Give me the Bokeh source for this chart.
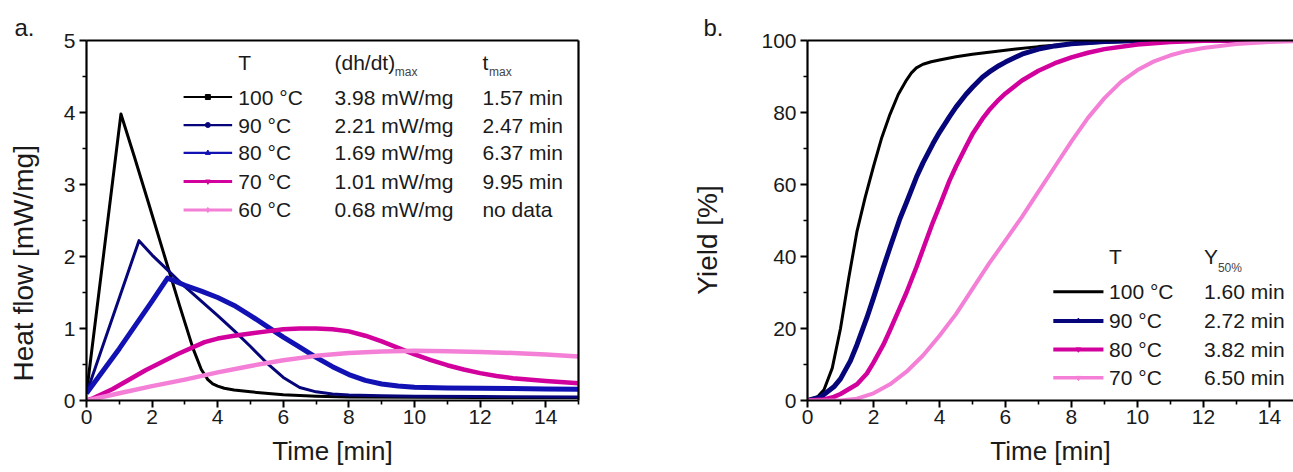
from bokeh.plotting import figure
from bokeh.models import Range1d, LinearAxis, FixedTicker
from bokeh.layouts import row
from bokeh.embed import file_html
from bokeh.resources import INLINE
from bokeh.core.properties import value

FONT = "Liberation Sans"
NB = "\u00a0"

# ---------------- data: panel a (heat flow) ----------------
a_labels = ["100 °C", "90 °C", "80 °C", "70 °C", "60 °C"]
a_dhdt = ["3.98 mW/mg", "2.21 mW/mg", "1.69 mW/mg", "1.01 mW/mg", "0.68 mW/mg"]
a_tmax = ["1.57 min", "2.47 min", "6.37 min", "9.95 min", "no data"]

t100a = [0, 1.05, 1.45, 1.9, 2.35, 2.85, 3.25, 3.5, 3.7, 3.85, 4.0, 4.2, 4.5, 5.0, 6.0, 7.0, 8.0, 10.0, 12.0, 15.0]
h100a = [0.1, 3.98, 3.40, 2.73, 2.05, 1.30, 0.72, 0.43, 0.29, 0.23, 0.2, 0.17, 0.145, 0.12, 0.08, 0.06, 0.05, 0.045, 0.04, 0.04]

t90a = [0, 1.6, 2.0, 2.5, 3.0, 3.5, 4.0, 4.5, 5.0, 5.5, 6.0, 6.5, 7.0, 7.5, 8.0, 9.0, 10.0, 12.0, 15.0]
h90a = [0.1, 2.22, 2.02, 1.80, 1.58, 1.38, 1.18, 0.97, 0.75, 0.52, 0.32, 0.18, 0.12, 0.09, 0.075, 0.065, 0.06, 0.055, 0.05]

t80a = [0, 1.0, 2.0, 2.47, 3.0, 3.5, 4.0, 4.5, 5.0, 5.5, 6.0, 6.5, 7.0, 7.5, 8.0, 8.5, 9.0, 9.5, 10.0, 11.0, 12.0, 13.0, 14.0, 15.0]
h80a = [0.1, 0.72, 1.38, 1.70, 1.60, 1.52, 1.43, 1.32, 1.18, 1.03, 0.88, 0.74, 0.60, 0.47, 0.36, 0.28, 0.23, 0.20, 0.185, 0.175, 0.17, 0.165, 0.16, 0.155]

t70a = [0, 0.2, 0.8, 1.8, 2.8, 3.6, 4.0, 4.5, 5.0, 5.5, 6.0, 6.5, 7.0, 7.5, 8.0, 8.5, 9.0, 9.5, 10.0, 10.5, 11.0, 11.5, 12.0, 12.5, 13.0, 14.0, 15.0]
h70a = [0.0, 0.03, 0.16, 0.42, 0.65, 0.81, 0.86, 0.9, 0.93, 0.96, 0.99, 1.0, 1.0, 0.99, 0.96, 0.9, 0.82, 0.73, 0.64, 0.56, 0.49, 0.43, 0.38, 0.34, 0.31, 0.27, 0.24]

t60a = [0, 1, 2, 3, 4, 5, 6, 7, 8, 9, 10, 11, 12, 13, 14, 15]
h60a = [0.0, 0.1, 0.2, 0.29, 0.39, 0.48, 0.56, 0.62, 0.66, 0.68, 0.69, 0.685, 0.675, 0.66, 0.64, 0.61]

# ---------------- data: panel b (yield) ----------------
b_labels = ["100 °C", "90 °C", "80 °C", "70 °C"]
b_y50 = ["1.60 min", "2.72 min", "3.82 min", "6.50 min"]

t100b = [0, 0.3, 0.5, 0.75, 1.0, 1.25, 1.5, 1.75, 2.0, 2.25, 2.5, 2.75, 3.0, 3.15, 3.3, 3.5, 3.75, 4.0, 4.5, 5.0, 6.0, 7.0, 8.0, 9.0, 10.0, 12.0, 15.0]
y100b = [0, 1, 3, 9, 20, 34, 47, 56.5, 65, 73, 79.5, 85, 89, 91, 92.4, 93.4, 94.1, 94.6, 95.5, 96.2, 97.3, 98.3, 99, 99.5, 99.8, 100, 100]

t90b = [0, 0.4, 0.8, 1.0, 1.3, 1.5, 1.8, 2.0, 2.3, 2.5, 2.8, 3.0, 3.3, 3.5, 3.8, 4.0, 4.3, 4.5, 4.8, 5.0, 5.3, 5.5, 5.8, 6.0, 6.5, 7.0, 7.5, 8.0, 9.0, 10.0, 15.0]
y90b = [0, 1, 3.8, 6, 11, 15.5, 23, 28.5, 37, 42.5, 50.5, 55, 62, 66, 71.3, 74.5, 78.8, 81.5, 85, 87, 89.8, 91.2, 93, 94, 96.2, 97.6, 98.5, 99.1, 99.7, 100, 100]

t80b = [0, 0.5, 0.8, 1.0, 1.5, 1.8, 2.0, 2.3, 2.5, 2.8, 3.0, 3.3, 3.5, 3.8, 4.0, 4.3, 4.5, 4.8, 5.0, 5.3, 5.5, 5.8, 6.0, 6.5, 7.0, 7.5, 8.0, 8.5, 9.0, 10.0, 11.0, 12.0, 15.0]
y80b = [0, 0.3, 1, 1.8, 4.5, 7.5, 10.5, 15.5, 19.5, 25.8, 30, 37, 42, 49.5, 54, 61, 65, 70.5, 74, 78.2, 80.6, 83.6, 85.3, 88.9, 91.6, 93.7, 95.3, 96.6, 97.6, 98.9, 99.6, 99.9, 100]

t70b = [0, 1.0, 1.5, 2.0, 2.5, 3.0, 3.5, 4.0, 4.5, 5.0, 5.5, 6.0, 6.5, 7.0, 7.5, 8.0, 8.5, 9.0, 9.5, 10.0, 10.5, 11.0, 11.5, 12.0, 13.0, 14.0, 15.0]
y70b = [0, 0, 0.5, 2, 4.5, 8, 12.5, 18, 24, 31, 38, 44.5, 51, 58, 65, 72, 78.5, 84, 88.5, 91.8, 94.2, 95.9, 97.1, 97.9, 99, 99.6, 99.9]

x_ticks = [0, 2, 4, 6, 8, 10, 12, 14]
x_minor = [1, 3, 5, 7, 9, 11, 13, 15]
ya_ticks = [0, 1, 2, 3, 4, 5]
ya_minor = [0.5, 1.5, 2.5, 3.5, 4.5]
yb_ticks = [0, 20, 40, 60, 80, 100]
yb_minor = [10, 30, 50, 70, 90]

# ---------------- styles ----------------
BLACK = "#000000"
NAVY = "#06067a"
BLUE = "#1212b4"
MAGENTA = "#d2009c"
PINK = "#f47fd6"
TXT = "#1a1a1a"
LEG_FS = "21px"


def style(p, xt, xm, yt, ym):
    p.xgrid.visible = False
    p.ygrid.visible = False
    p.xaxis.ticker = FixedTicker(ticks=xt, minor_ticks=xm)
    p.yaxis.ticker = FixedTicker(ticks=yt, minor_ticks=ym)
    for ax in list(p.xaxis) + list(p.yaxis):
        ax.axis_line_width = 2.2
        ax.major_tick_line_width = 2
        ax.minor_tick_line_width = 1.6
        ax.major_tick_out = 7
        ax.major_tick_in = 0
        ax.minor_tick_out = 4
        ax.minor_tick_in = 0
        ax.major_label_text_font = FONT
        ax.major_label_text_font_size = "21px"
        ax.major_label_text_color = TXT
        ax.axis_label_text_font = FONT
        ax.axis_label_text_font_style = "normal"
        ax.axis_label_text_color = TXT
    p.xaxis.axis_label_text_font_size = "26px"
    p.yaxis.axis_label_text_font_size = "28px"
    p.xaxis.major_label_standoff = 2
    p.xaxis.axis_label_standoff = 9
    p.yaxis.major_label_standoff = 4
    p.title.text_font = FONT
    p.title.text_font_size = "24px"
    p.title.text_font_style = "normal"
    p.title.text_color = TXT
    p.title.align = "left"
    p.title.standoff = 0


def frame_line(p, loc):
    ax = LinearAxis(ticker=FixedTicker(ticks=[]), axis_line_width=2.2,
                    major_tick_out=0, minor_tick_out=0,
                    major_label_text_font_size="0px")
    p.add_layout(ax, loc)


# ---------------- panel a ----------------
pa = figure(width=628, height=472, output_backend="svg", toolbar_location=None,
            x_range=Range1d(0, 15), y_range=Range1d(0, 5), title="a.",
            min_border_left=86, min_border_right=50, min_border_top=40, min_border_bottom=72,
            x_axis_label="Time [min]", y_axis_label="Heat flow [mW/mg]" + NB * 11)
style(pa, x_ticks, x_minor, ya_ticks, ya_minor)
pa.title.offset = -72
pa.yaxis.axis_label_standoff = 22
pa.outline_line_color = None
frame_line(pa, "above")
frame_line(pa, "right")

a_series = [(t100a, h100a, BLACK, 3, "square"),
            (t90a, h90a, NAVY, 3, "circle"),
            (t80a, h80a, BLUE, 5, "triangle"),
            (t70a, h70a, MAGENTA, 4.5, "inverted_triangle"),
            (t60a, h60a, PINK, 4.5, "diamond")]
for t, h, c, w, m in a_series:
    pa.line(t, h, line_color=c, line_width=w, line_join="round")

# legend of panel a (table-like)
a_rows_y = [4.215, 3.826, 3.438, 3.042, 2.646]
a_head_y = 4.70
leg_w = [2.2, 2.2, 2.2, 3.2, 3.2]
for i, (_, _, c, w, m) in enumerate(a_series):
    pa.line([2.96, 4.44], [a_rows_y[i]] * 2, line_color=c, line_width=leg_w[i])
    pa.scatter([3.70], [a_rows_y[i]], marker=m, size=5, color=c)
pa.text(x=[4.63] * 5, y=a_rows_y, text=a_labels, text_font=value(FONT),
        text_font_size=LEG_FS, text_baseline="middle", text_color=TXT)
pa.text(x=[7.56] * 5, y=a_rows_y, text=a_dhdt, text_font=value(FONT),
        text_font_size=LEG_FS, text_baseline="middle", text_color=TXT)
pa.text(x=[12.07] * 5, y=a_rows_y, text=a_tmax, text_font=value(FONT),
        text_font_size=LEG_FS, text_baseline="middle", text_color=TXT)
pa.text(x=[4.63, 7.56, 12.07], y=[a_head_y] * 3, text=["T", "(dh/dt)", "t"],
        text_font=value(FONT), text_font_size=LEG_FS, text_baseline="middle", text_color=TXT)
pa.text(x=[9.40, 12.27], y=[a_head_y - 0.14] * 2, text=["max", "max"],
        text_font=value(FONT), text_font_size="12px", text_baseline="middle", text_color="#444444")

# ---------------- panel b ----------------
pb = figure(width=665, height=472, output_backend="svg", toolbar_location=None,
            x_range=Range1d(0, 14.73), y_range=Range1d(0, 100), title="b.",
            min_border_left=179, min_border_right=0, min_border_top=40, min_border_bottom=72,
            x_axis_label="Time [min]", y_axis_label="Yield [%]" + NB * 5)
style(pb, x_ticks, x_minor, yb_ticks, yb_minor)
pb.title.offset = -104
pb.yaxis.axis_label_standoff = 35
pb.outline_line_color = None
frame_line(pb, "above")

b_series = [(t100b, y100b, BLACK, 3, "dash"),
            (t90b, y90b, NAVY, 5, "triangle"),
            (t80b, y80b, MAGENTA, 4.5, "inverted_triangle"),
            (t70b, y70b, PINK, 4, "inverted_triangle")]
for t, y, c, w, m in b_series:
    pb.line(t, y, line_color=c, line_width=w, line_join="round")

b_rows_y = [30.2, 22.1, 14.2, 6.3]
b_head_y = 39.9
bleg_w = [3, 4, 4, 3.5]
for i, (_, _, c, w, m) in enumerate(b_series):
    pb.line([7.45, 8.97], [b_rows_y[i]] * 2, line_color=c, line_width=bleg_w[i])
    pb.scatter([8.21], [b_rows_y[i]], marker=m, size=5, color=c)
pb.text(x=[9.14] * 4, y=b_rows_y, text=b_labels, text_font=value(FONT),
        text_font_size=LEG_FS, text_baseline="middle", text_color=TXT)
pb.text(x=[12.02] * 4, y=b_rows_y, text=b_y50, text_font=value(FONT),
        text_font_size=LEG_FS, text_baseline="middle", text_color=TXT)
pb.text(x=[9.14, 12.02], y=[b_head_y] * 2, text=["T", "Y"], text_font=value(FONT),
        text_font_size=LEG_FS, text_baseline="middle", text_color=TXT)
pb.text(x=[12.44], y=[b_head_y - 3.2], text=["50%"], text_font=value(FONT),
        text_font_size="12px", text_baseline="middle", text_color="#444444")

layout = row(pa, pb, spacing=0)
open("out.html", "w").write(file_html(layout, INLINE))
